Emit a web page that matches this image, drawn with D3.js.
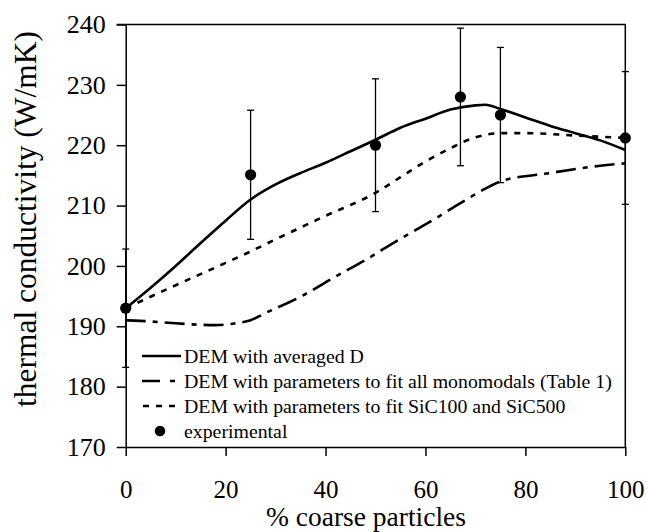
<!DOCTYPE html>
<html><head><meta charset="utf-8">
<script src="https://cdn.jsdelivr.net/npm/d3@7"></script>
<style>
html,body{margin:0;padding:0;background:#fff;}
svg{display:block;}
svg text{font-family:'Liberation Serif' !important;}
</style></head>
<body>
<svg id="chart" width="647" height="532"></svg>
<script>
// ---- data ----
const xTicks = [0, 20, 40, 60, 80, 100];
const yTicks = [170, 180, 190, 200, 210, 220, 230, 240];

const expX   = [0, 25, 50, 67, 75, 100];
const expY   = [193, 215.1, 220, 228, 225, 221.2];
const expErr = [9.8, 10.7, 11, 11.4, 11.2, 11];

const avgX = [0, 5, 10, 15, 20, 25, 30, 35, 40, 45, 50, 55, 60, 65, 70, 72, 75, 80, 85, 90, 95, 100];
const avgY = [193, 196.4, 200, 203.8, 207.5, 211, 213.5, 215.4, 217.1, 219, 220.9, 222.9, 224.4, 225.9, 226.6, 226.7, 226.0, 224.6, 223.2, 222.0, 220.8, 219.2];

const monoX = [0, 5, 10, 15, 18, 22, 25, 28, 35, 41.5, 48, 55, 61.5, 67, 72, 75, 85, 95, 100];
const monoY = [191, 190.8, 190.5, 190.25, 190.2, 190.5, 191, 192.2, 194.9, 198, 201, 204.5, 207.6, 210.4, 212.8, 214, 215.4, 216.6, 217];

const sicX = [0, 10, 20, 25, 30, 40, 50, 55, 60, 65, 70, 75, 80, 90, 100];
const sicY = [193, 196.8, 200.5, 202.4, 204.4, 208.3, 212.1, 214.7, 217.3, 219.5, 221.3, 222, 222, 221.6, 221.2];

const legendLabels = [
  "DEM with averaged D",
  "DEM with parameters to fit all monomodals (Table 1)",
  "DEM with parameters to fit SiC100 and SiC500",
  "experimental"
];
const xTitle = "% coarse particles";
const yTitle = "thermal conductivity (W/mK)";

const FONT = "'Liberation Serif'";

// ---- layout ----
const svg = d3.select("#chart");
const L = 125.7, R = 625.3, T = 24.5, B = 447;
const x = d3.scaleLinear().domain([0, 100]).range([L, R]);
const y = d3.scaleLinear().domain([170, 240]).range([B, T]);

// fit a text element's font size so its rendered width matches a target
function fitWidth(sel, size, target) {
  sel.style("font-size", size + "px");
  const w = sel.node().getComputedTextLength();
  if (w > 0) sel.style("font-size", (size * target / w) + "px");
  return sel;
}

// frame (top and right)
svg.append("path")
  .attr("d", `M${L - 9},${T}H${R}V${B}`)
  .attr("fill", "none").attr("stroke", "#000").attr("stroke-width", 1.5);

// y axis
const gy = svg.append("g").attr("transform", `translate(${L},0)`)
  .call(d3.axisLeft(y).tickValues(yTicks).tickSize(9).tickPadding(11).tickSizeOuter(0));
gy.attr("font-family", FONT).attr("font-size", 26);
gy.select(".domain").attr("stroke-width", 1.5);
gy.selectAll(".tick line").attr("stroke-width", 1.5);
gy.selectAll(".tick text").style("font-family", FONT).style("font-size", "26px").attr("fill", "#000");

// x axis
const gx = svg.append("g").attr("transform", `translate(0,${B})`)
  .call(d3.axisBottom(x).tickValues(xTicks).tickSize(9).tickPadding(24).tickSizeOuter(0));
gx.attr("font-family", FONT).attr("font-size", 25);
gx.select(".domain").attr("stroke-width", 1.5);
gx.selectAll(".tick line").attr("stroke-width", 1.5);
gx.selectAll(".tick text").style("font-family", FONT).style("font-size", "25px").attr("fill", "#000");

// axis titles
const xt = svg.append("text").attr("x", 366).attr("y", 526).attr("text-anchor", "middle")
  .style("font-family", FONT).text(xTitle);
fitWidth(xt, 25, 200);
const yt = svg.append("text").attr("transform", `translate(36,219) rotate(-90)`)
  .attr("text-anchor", "middle").style("font-family", FONT).text(yTitle);
fitWidth(yt, 26, 376);

// curves
const line = (xs, ys) => d3.line().x((d, i) => x(xs[i])).y((d, i) => y(ys[i])).curve(d3.curveMonotoneX)(ys);
const styles = [
  {dash: null, w: 2.6},
  {dash: "20,7,5,7", w: 2.6},
  {dash: "6,7", w: 2.6}
];
const series = [[avgX, avgY], [monoX, monoY], [sicX, sicY]];
series.forEach((s, k) => {
  svg.append("path").attr("d", line(s[0], s[1]))
    .attr("fill", "none").attr("stroke", "#000")
    .attr("stroke-width", styles[k].w)
    .attr("stroke-dasharray", styles[k].dash);
});

// error bars
const eb = svg.append("g").attr("stroke", "#000").attr("stroke-width", 1.3);
expX.forEach((xv, i) => {
  const cx = x(xv), y1 = y(expY[i] + expErr[i]), y2 = y(expY[i] - expErr[i]);
  eb.append("line").attr("x1", cx).attr("x2", cx).attr("y1", y1).attr("y2", y2);
  eb.append("line").attr("x1", cx - 3.5).attr("x2", cx + 3.5).attr("y1", y1).attr("y2", y1);
  eb.append("line").attr("x1", cx - 3.5).attr("x2", cx + 3.5).attr("y1", y2).attr("y2", y2);
});
svg.append("g").selectAll("circle").data(expX).join("circle")
  .attr("cx", d => x(d)).attr("cy", (d, i) => y(expY[i])).attr("r", 5.6).attr("fill", "#000");

// legend
const rowsY = [356, 381, 406, 431];
const lg = svg.append("g");
[[142, 181], [142, 178], [143, 177]].forEach((xx, k) => {
  lg.append("line").attr("x1", xx[0]).attr("x2", xx[1]).attr("y1", rowsY[k]).attr("y2", rowsY[k])
    .attr("stroke", "#000").attr("stroke-width", styles[k].w)
    .attr("stroke-dasharray", k === 1 ? "18,10,5,10" : styles[k].dash);
});
lg.append("circle").attr("cx", 160).attr("cy", rowsY[3]).attr("r", 5.3).attr("fill", "#000");
const legTexts = legendLabels.map((t, k) =>
  lg.append("text").attr("x", 184).attr("y", rowsY[k]).attr("dy", "0.33em")
    .style("font-family", FONT).text(t));
// scale legend font so the longest entry spans the same width as in the reference
fitWidth(legTexts[1], 19, 428);
const legSize = legTexts[1].style("font-size");
legTexts.forEach(t => t.style("font-size", legSize));
</script>
</body></html>
